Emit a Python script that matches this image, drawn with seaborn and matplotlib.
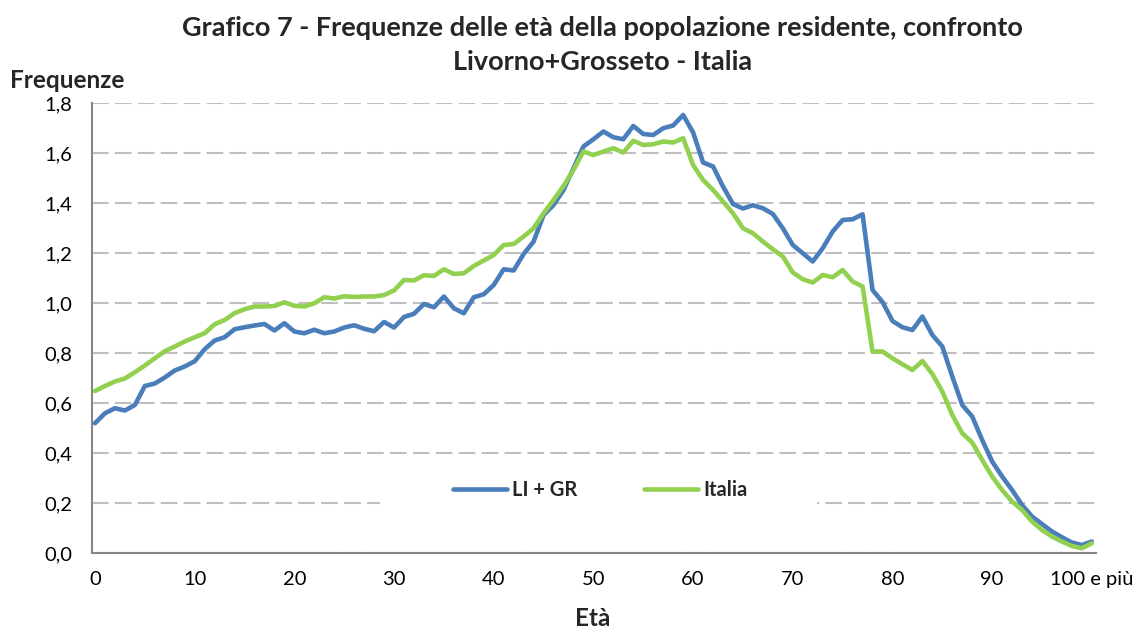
import pandas as pd
import seaborn as sns
import matplotlib.pyplot as plt
from matplotlib.patches import Rectangle

# %%
# data (frequenze per singolo anno di età)
ages = list(range(0, 101))

li_gr = [0.520, 0.560, 0.580, 0.571, 0.593, 0.669, 0.679, 0.703, 0.731, 0.747,
         0.768, 0.816, 0.851, 0.864, 0.896, 0.904, 0.911, 0.917, 0.891, 0.920,
         0.887, 0.880, 0.894, 0.880, 0.887, 0.903, 0.912, 0.898, 0.888, 0.925,
         0.903, 0.945, 0.958, 0.997, 0.984, 1.027, 0.980, 0.960, 1.024, 1.036,
         1.073, 1.136, 1.131, 1.197, 1.247, 1.353, 1.393, 1.453, 1.540, 1.627,
         1.656, 1.687, 1.664, 1.656, 1.709, 1.677, 1.673, 1.700, 1.711, 1.753,
         1.683, 1.563, 1.547, 1.467, 1.397, 1.379, 1.392, 1.380, 1.357, 1.300,
         1.233, 1.200, 1.167, 1.220, 1.287, 1.333, 1.336, 1.356, 1.053, 1.005,
         0.929, 0.904, 0.893, 0.947, 0.873, 0.827, 0.707, 0.593, 0.547, 0.453,
         0.367, 0.307, 0.253, 0.193, 0.147, 0.117, 0.087, 0.064, 0.043, 0.033,
         0.047]

italia = [0.649, 0.669, 0.687, 0.699, 0.724, 0.751, 0.780, 0.808, 0.827, 0.847,
          0.864, 0.880, 0.916, 0.933, 0.960, 0.976, 0.987, 0.987, 0.989, 1.004,
          0.990, 0.987, 1.000, 1.024, 1.019, 1.028, 1.025, 1.027, 1.027, 1.033,
          1.051, 1.093, 1.091, 1.112, 1.109, 1.136, 1.117, 1.120, 1.149, 1.171,
          1.193, 1.233, 1.237, 1.267, 1.300, 1.360, 1.413, 1.469, 1.533, 1.607,
          1.593, 1.607, 1.620, 1.603, 1.650, 1.633, 1.636, 1.647, 1.643, 1.660,
          1.553, 1.493, 1.453, 1.407, 1.360, 1.300, 1.280, 1.247, 1.216, 1.187,
          1.123, 1.096, 1.083, 1.113, 1.104, 1.133, 1.087, 1.067, 0.807, 0.807,
          0.780, 0.756, 0.733, 0.769, 0.717, 0.647, 0.553, 0.480, 0.443, 0.373,
          0.307, 0.253, 0.207, 0.173, 0.127, 0.093, 0.067, 0.047, 0.029, 0.020,
          0.040]

series_names = ["LI + GR", "Italia"]
series_colors = ["#4a7ebb", "#92d050"]

x_ticks = [0, 10, 20, 30, 40, 50, 60, 70, 80, 90, 100]
x_tick_labels = ["0", "10", "20", "30", "40", "50", "60", "70", "80", "90", "100 e più"]
y_ticks = [0.0, 0.2, 0.4, 0.6, 0.8, 1.0, 1.2, 1.4, 1.6, 1.8]

# %%
df = pd.DataFrame({
    "Età": ages * 2,
    "Frequenze": li_gr + italia,
    "serie": [series_names[0]] * len(ages) + [series_names[1]] * len(ages),
})

sns.set_style("white")
plt.rcParams["font.family"] = ["Lato", "DejaVu Sans"]

fig = plt.figure(figsize=(11.33, 6.28), dpi=100)
ax = fig.add_axes([0.0812, 0.119, 0.886, 0.7166])

sns.lineplot(data=df, x="Età", y="Frequenze", hue="serie",
             palette=dict(zip(series_names, series_colors)),
             linewidth=3.3, ax=ax, legend=True, zorder=3)

ax.set_xlim(-0.3, 100.4)
ax.set_ylim(0, 1.8)
ax.set_xticks(x_ticks)
ax.set_xticklabels(x_tick_labels)
ax.set_yticks(y_ticks)
ax.set_yticklabels([f"{v:.1f}".replace(".", ",") for v in y_ticks])
ax.tick_params(axis="both", length=0, labelsize=14.5, colors="#000000")
ax.tick_params(axis="y", pad=14)
ax.tick_params(axis="x", pad=13)
ax.set_xlabel("")
ax.set_ylabel("")

ax.set_axisbelow(True)
ax.yaxis.grid(True, color="#bfbfbf", linestyle=(0, (8, 3)), linewidth=1.5)
ax.xaxis.grid(False)
for side in ["top", "right"]:
    ax.spines[side].set_visible(False)
for side in ["left", "bottom"]:
    ax.spines[side].set_color("#868686")
    ax.spines[side].set_linewidth(1.5)

# white box behind the legend (hides part of the 0,2 gridline like the original)
ax.add_patch(Rectangle((0.287, 0.085), 0.435, 0.105, transform=ax.transAxes,
                       facecolor="white", edgecolor="none", zorder=1))

handles, labels = ax.get_legend_handles_labels()
for h in handles:
    h.set_linewidth(3.3)
ax.legend(handles, labels, loc="center", bbox_to_anchor=(0.506, 0.141), ncol=2,
          frameon=False, prop={"weight": "bold", "size": 14.5},
          handlelength=2.7, handletextpad=0.25, columnspacing=3.3)

fig.text(0.532, 1 - 28 / 628,
         "Grafico 7 - Frequenze delle età della popolazione residente, confronto",
         ha="center", va="center", fontsize=19.5, fontweight="bold")
fig.text(0.532, 1 - 62 / 628, "Livorno+Grosseto - Italia",
         ha="center", va="center", fontsize=19.5, fontweight="bold")
fig.text(10 / 1133, 1 - 80 / 628, "Frequenze", ha="left", va="center",
         fontsize=17.5, fontweight="bold")
fig.text(593 / 1133, 1 - 618 / 628, "Età", ha="center", va="center",
         fontsize=17.5, fontweight="bold")

fig.savefig("out.png", dpi=100)
